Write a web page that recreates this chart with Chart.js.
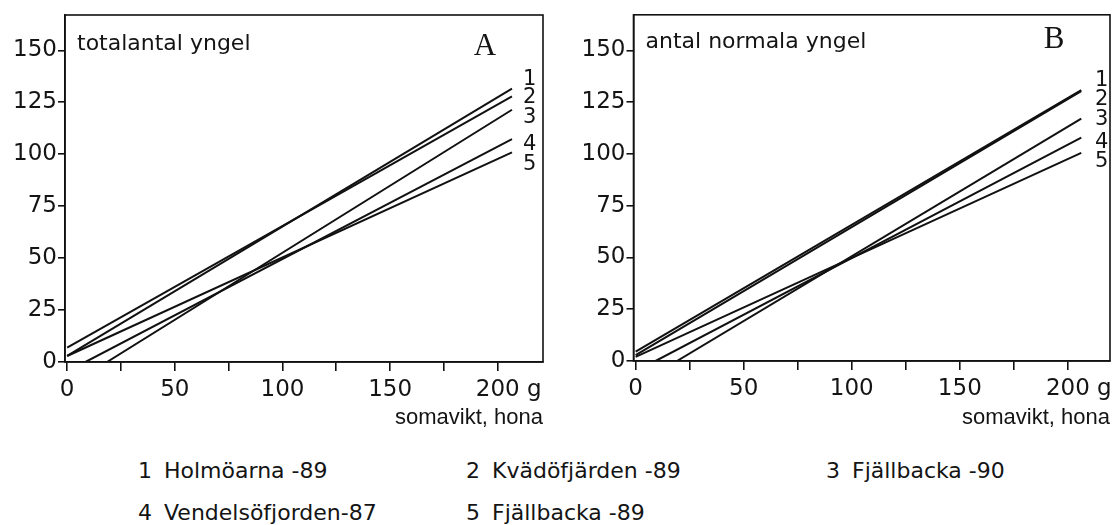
<!DOCTYPE html>
<html>
<head>
<meta charset="utf-8">
<script src="https://cdn.jsdelivr.net/npm/chart.js@4.4.1/dist/chart.umd.min.js"></script>
<style>
  body { margin: 0; background: #fff; width: 1119px; height: 525px; overflow: hidden; position: relative; color: #141414; font-family: "DejaVu Sans", sans-serif; }
  .panel { position: absolute; top: 0; height: 440px; }
  #wrapA { left: 0; width: 560px; }
  #wrapB { left: 560px; width: 559px; }
  .key { position: absolute; font-size: 22px; white-space: pre; line-height: 1; }
</style>
</head>
<body>
<div class="panel" id="wrapA"><canvas id="chartA" width="560" height="440"></canvas></div>
<div class="panel" id="wrapB"><canvas id="chartB" width="559" height="440"></canvas></div>
<div id="legend"></div>
<script>
// line numbers and site names
const seriesLabels = ['1', '2', '3', '4', '5'];
const siteNames = ['Holmöarna -89', 'Kvädöfjärden -89', 'Fjällbacka -90', 'Vendelsöfjorden-87', 'Fjällbacka -89'];

// axes
const xTicks = [0, 25, 50, 75, 100, 125, 150, 175, 200];
const xLabelled = [0, 50, 100, 150, 200];
const yTicks = [0, 25, 50, 75, 100, 125, 150];

// A: totalantal yngel, start and end point of each regression line
const aX0 = [0, 0, 18.5, 8.5, 0];
const aY0 = [2.9, 6.9, 0, 0, 2.9];
const aX1 = [206.6, 206.6, 206.6, 206.6, 206.6];
const aY1 = [131.6, 127.8, 121.4, 107.3, 100.9];

// B: antal normala yngel
const bX0 = [0, 0, 19.1, 9.2, 0];
const bY0 = [4.5, 2.8, 0, 0, 2.0];
const bX1 = [206.2, 206.2, 206.2, 206.2, 206.2];
const bY1 = [130.8, 130.3, 117.1, 107.9, 100.5];

const ink = '#141414';
const tickFont = { family: '"DejaVu Sans", sans-serif', size: 23 };

const annot = {
    id: 'annot',
    afterDraw(chart, args, o) {
        const { ctx, chartArea: ca, scales } = chart;
        ctx.save();
        ctx.strokeStyle = '#111';
        ctx.lineWidth = 1.6;
        ctx.strokeRect(ca.left, ca.top, ca.right - ca.left, ca.bottom - ca.top);

        ctx.fillStyle = ink;
        ctx.textBaseline = 'alphabetic';
        ctx.textAlign = 'left';
        ctx.font = '22px "DejaVu Sans"';
        ctx.fillText(o.title, ca.left + 12, o.titleY);

        ctx.font = '31px "Liberation Serif"';
        ctx.textAlign = 'center';
        ctx.fillText(o.letter, o.letterX, o.letterY);

        ctx.font = '21px "DejaVu Sans"';
        ctx.textAlign = 'left';
        seriesLabels.forEach((s, i) => ctx.fillText(s, o.numX, o.numY[i]));

        // the "g" unit after the 200 tick label
        const item = scales.x.getLabelItems().find(it => it.label === '200');
        if (item) {
            ctx.font = '23px "DejaVu Sans"';
            ctx.textBaseline = item.options.textBaseline;
            const [tx, ty] = item.options.translation;
            const w = ctx.measureText('200').width;
            ctx.fillText('g', tx + w / 2 + ctx.measureText(' ').width, ty + item.textOffset);
        }
        ctx.restore();
    }
};

function makeChart(id, x0, y0, x1, y1, cfg) {
    const datasets = seriesLabels.map((s, i) => ({
        label: s,
        data: [{ x: x0[i], y: y0[i] }, { x: x1[i], y: y1[i] }],
        borderColor: '#111',
        borderWidth: 2,
        pointRadius: 0,
        tension: 0
    }));
    return new Chart(document.getElementById(id), {
        type: 'line',
        data: { datasets },
        options: {
            responsive: false,
            animation: false,
            layout: { autoPadding: false, padding: { left: cfg.padLeft, right: cfg.padRight, top: cfg.padTop, bottom: 0 } },
            plugins: {
                legend: { display: false },
                tooltip: { enabled: false },
                annot: cfg.annot
            },
            scales: {
                x: {
                    type: 'linear',
                    min: cfg.xMin,
                    max: cfg.xMax,
                    afterBuildTicks: s => { s.ticks = xTicks.map(v => ({ value: v })); },
                    afterFit: s => { s.height = 440 - cfg.bottom; },
                    grid: { drawOnChartArea: false, drawTicks: true, tickLength: 9, color: '#111', lineWidth: 1.6 },
                    border: { display: true, color: '#111', width: 1.6 },
                    ticks: {
                        font: tickFont, color: ink, padding: 5, maxRotation: 0, autoSkip: false,
                        callback: v => xLabelled.includes(v) ? String(v) : ''
                    },
                    title: {
                        display: true, text: 'somavikt, hona', align: 'end', color: ink,
                        font: { family: '"Liberation Sans", Arial, sans-serif', size: 22 },
                        padding: { top: 0, bottom: 9 }
                    }
                },
                y: {
                    min: 0,
                    max: cfg.yMax,
                    afterBuildTicks: s => { s.ticks = yTicks.map(v => ({ value: v })); },
                    afterFit: s => { s.width = cfg.yWidth; },
                    grid: { drawOnChartArea: false, drawTicks: true, tickLength: 7, color: '#111', lineWidth: 1.6 },
                    border: { display: true, color: '#111', width: 1.6 },
                    ticks: { font: tickFont, color: ink, padding: 1 }
                }
            }
        },
        plugins: [annot]
    });
}

makeChart('chartA', aX0, aY0, aX1, aY1, {
    padLeft: 0, padRight: 17, padTop: 15, bottom: 362, yWidth: 65,
    xMin: -1, xMax: 221, yMax: 167,
    annot: { title: 'totalantal yngel', titleY: 50, letter: 'A', letterX: 485, letterY: 55, numX: 523, numY: [85, 103, 123, 150, 170] }
});

makeChart('chartB', bX0, bY0, bX1, bY1, {
    padLeft: 0, padRight: 9, padTop: 14, bottom: 361, yWidth: 73.5,
    xMin: -1, xMax: 219.5, yMax: 167.2,
    annot: { title: 'antal normala yngel', titleY: 48, letter: 'B', letterX: 494, letterY: 48, numX: 535, numY: [86, 105, 125, 148, 167] }
});

// legend below the panels
const keyLeft = [138, 466, 826, 138, 466];
const keyTop = [460, 460, 460, 502, 502];
const legend = document.getElementById('legend');
siteNames.forEach((name, i) => {
    const num = document.createElement('div');
    num.className = 'key';
    num.style.left = keyLeft[i] + 'px';
    num.style.top = keyTop[i] + 'px';
    num.textContent = seriesLabels[i];
    legend.appendChild(num);
    const txt = document.createElement('div');
    txt.className = 'key';
    txt.style.left = (keyLeft[i] + 26) + 'px';
    txt.style.top = keyTop[i] + 'px';
    txt.textContent = name;
    legend.appendChild(txt);
});
</script>
</body>
</html>
